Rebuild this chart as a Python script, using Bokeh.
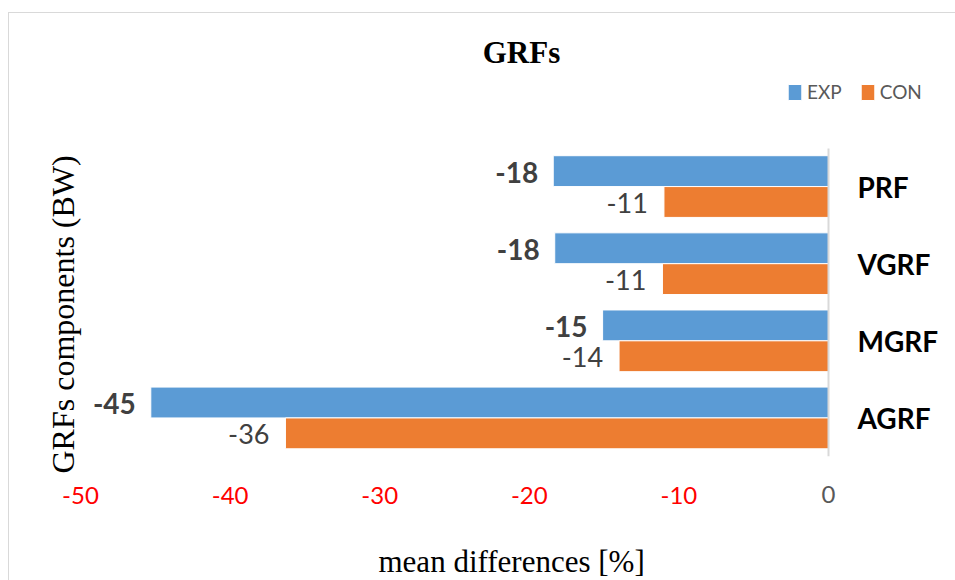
from bokeh.plotting import figure
from bokeh.models import ColumnDataSource, Range1d, FixedTicker, Title, LinearAxis, Label
from bokeh.core.properties import value
from bokeh.embed import file_html
from bokeh.resources import INLINE

# ---- data ----
categories = ["AGRF", "MGRF", "VGRF", "PRF"]          # bottom -> top
exp_values = [-45.3, -15.1, -18.3, -18.4]
con_values = [-36.3, -14.0, -11.1, -11.0]
series_names = ["EXP", "CON"]
x_ticks = [-50, -40, -30, -20, -10]
zero_tick = [0]

# ---- geometry (pixels) ----
W, H = 955, 580
FRAME_L, ZERO_X, FRAME_R = 80, 828, 950
FRAME_T, CATS_T, FRAME_B = 20, 147.5, 456

n = len(categories)
cat_pos = [i + 0.5 for i in range(n)]
exp_pos = [c + 0.2 for c in cat_pos]
con_pos = [c - 0.2 for c in cat_pos]
exp_labels = ["%d" % round(v) for v in exp_values]
con_labels = ["%d" % round(v) for v in con_values]

x_end = 50.0 * (FRAME_R - ZERO_X) / (ZERO_X - FRAME_L)
y_end = n * (FRAME_B - FRAME_T) / (FRAME_B - CATS_T)

source = ColumnDataSource(dict(cat=categories, exp=exp_values, con=con_values,
                               exp_y=exp_pos, con_y=con_pos,
                               exp_lbl=exp_labels, con_lbl=con_labels))

BLUE = "#5B9BD5"
ORANGE = "#ED7D31"
SANS = "Lato"
SERIF = "Liberation Serif"

p = figure(width=W, height=H, output_backend="svg", toolbar_location=None,
           title=None,
           x_range=Range1d(-50, x_end), y_range=Range1d(0, y_end),
           y_axis_location="right",
           min_border_left=FRAME_L, min_border_right=W - FRAME_R,
           min_border_top=FRAME_T, min_border_bottom=H - FRAME_B)

p.outline_line_color = None
p.xgrid.grid_line_color = None
p.ygrid.grid_line_color = None
p.background_fill_color = None
p.border_fill_color = None
p.styles = {
    "background": "linear-gradient(#D9D9D9,#D9D9D9) 8px 12px / 1px 100% no-repeat, "
                  "linear-gradient(#D9D9D9,#D9D9D9) 8px 12px / 100% 1px no-repeat, white"
}

p.hbar(y="exp_y", left=0, right="exp", height=0.4,
       source=source, fill_color=BLUE, line_color="white", line_width=1,
       legend_label=series_names[0])
p.hbar(y="con_y", left=0, right="con", height=0.4,
       source=source, fill_color=ORANGE, line_color="white", line_width=1,
       legend_label=series_names[1])

p.text(x="exp", y="exp_y", text="exp_lbl", source=source,
       text_align="right", text_baseline="middle", x_offset=-15, y_offset=1,
       text_font=value(SANS), text_font_style="bold", text_font_size="28px",
       text_color="#404040")
p.text(x="con", y="con_y", text="con_lbl", source=source,
       text_align="right", text_baseline="middle", x_offset=-16, y_offset=1,
       text_font=value(SANS), text_font_size="27px", text_color="#404040")


def style_x_axis(ax, color, standoff):
    ax.axis_line_color = None
    ax.major_tick_line_color = None
    ax.minor_tick_line_color = None
    ax.major_tick_out = 0
    ax.major_tick_in = 0
    ax.minor_tick_out = 0
    ax.major_label_text_color = color
    ax.major_label_text_font = SANS
    ax.major_label_text_font_size = "24px"
    ax.major_label_standoff = standoff


# grey "0" tick (nearest the frame), then the red negative ticks on the same row
xa_zero = LinearAxis(ticker=FixedTicker(ticks=zero_tick))
style_x_axis(xa_zero, "#595959", 29)

xa = p.xaxis[0]
xa.ticker = FixedTicker(ticks=x_ticks)
xa.major_label_overrides = {t: str(t) for t in x_ticks}
style_x_axis(xa, "#FF0000", -19)

# category axis, crossing at x = 0
ya = p.yaxis[0]
ya.fixed_location = 0
ya.bounds = (0, n)
ya.ticker = FixedTicker(ticks=cat_pos)
ya.major_label_overrides = {pos: c for pos, c in zip(cat_pos, categories)}
ya.axis_line_color = "#D9D9D9"
ya.axis_line_width = 2
ya.major_tick_line_color = None
ya.minor_tick_line_color = None
ya.major_tick_out = 0
ya.major_tick_in = 0
ya.minor_tick_out = 0
ya.minor_tick_in = 0
ya.major_label_text_font = SANS
ya.major_label_text_font_style = "bold"
ya.major_label_text_font_size = "28px"
ya.major_label_text_color = "black"
ya.major_label_standoff = 29

# legend
lg = p.legend[0]
lg.location = (706, 353)
lg.orientation = "horizontal"
lg.border_line_color = None
lg.background_fill_alpha = 0
lg.padding = 0
lg.margin = 0
lg.spacing = 17
lg.glyph_width = 17
lg.glyph_height = 20
lg.label_standoff = 4
lg.label_text_font = SANS
lg.label_text_font_size = "19px"
lg.label_text_color = "#595959"

# chart title (inside the top of the plot area)
p.add_layout(Label(x=441, y=FRAME_B - 52, x_units="screen", y_units="screen", text="GRFs",
                   text_align="center", text_baseline="alphabetic",
                   text_font=SERIF, text_font_style="bold", text_font_size="31px",
                   text_color="black"))

# axis titles
x_title = Title(text="mean differences [%]", align="left", offset=298, standoff=0,
                text_font=SERIF, text_font_style="normal", text_font_size="31px",
                text_color="black")
y_title = Title(text="GRFs components (BW)", align="left", offset=-17, standoff=0,
                text_font=SERIF, text_font_style="normal", text_font_size="32px",
                text_color="black")
spacer_below = Title(text=" ", text_font_size="1px", standoff=32)
spacer_left = Title(text=" ", text_font_size="1px", standoff=32)

p.below = [xa_zero, xa, spacer_below, x_title]
p.left = [y_title, spacer_left]

open("out.html", "w").write(file_html(p, INLINE))
